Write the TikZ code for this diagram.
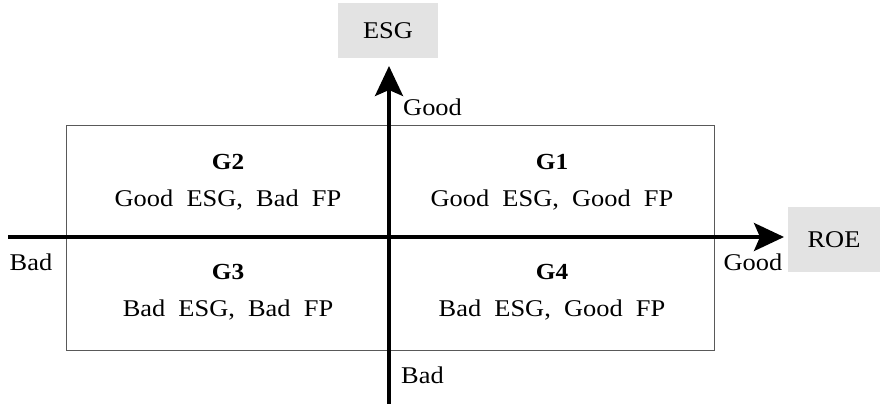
\documentclass[tikz,border=0pt]{standalone}
\usepackage{fontspec}
\setmainfont[FakeStretch=1.1, WordSpace=2]{Liberation Serif}
\usetikzlibrary{arrows.meta}
\begin{document}
\begin{tikzpicture}[x=1pt,y=-1pt,
  font=\fontsize{24}{28}\selectfont,
  axis/.style={line width=3.5pt, -{Stealth[length=30pt,width=28pt,inset=6pt]}},
  tagbox/.style={fill=black!11, inner sep=0pt},
  grp/.style={font=\fontsize{23}{27}\selectfont\bfseries, inner sep=0pt},
  desc/.style={inner sep=0pt},
  axlbl/.style={inner sep=0pt}]
\useasboundingbox (0,0) rectangle (881,404);
\node[draw=black!65, line width=0.9pt, minimum width=648pt, minimum height=225pt, inner sep=0pt] (frame) at (390,237.5) {};
\coordinate (hl) at (8,237);
\coordinate (hr) at (784,237);
\coordinate (vb) at (389,404);
\coordinate (vt) at (389,66);
\draw[axis] (hl) -- (hr);
\draw[axis] (vb) -- (vt);
\node[tagbox, minimum width=100pt, minimum height=55pt] (esg) at (388,30.5) {ESG};
\node[tagbox, minimum width=92pt, minimum height=65pt] (roe) at (834,239.5) {ROE};
\node[grp] (g2) at (228,162) {G2};
\node[desc] (d2) at (228,200) {Good ESG, Bad FP};
\node[grp] (g1) at (552,162) {G1};
\node[desc] (d1) at (552,200) {Good ESG, Good FP};
\node[grp] (g3) at (228,272) {G3};
\node[desc] (d3) at (228,310) {Bad ESG, Bad FP};
\node[grp] (g4) at (552,272) {G4};
\node[desc] (d4) at (552,310) {Bad ESG, Good FP};
\node[axlbl, anchor=west] (gt) at (403,107) {Good};
\node[axlbl] (gr) at (753,262) {Good};
\node[axlbl] (bl) at (31,262) {Bad};
\node[axlbl, anchor=west] (bb) at (401,375) {Bad};
\end{tikzpicture}
\end{document}
